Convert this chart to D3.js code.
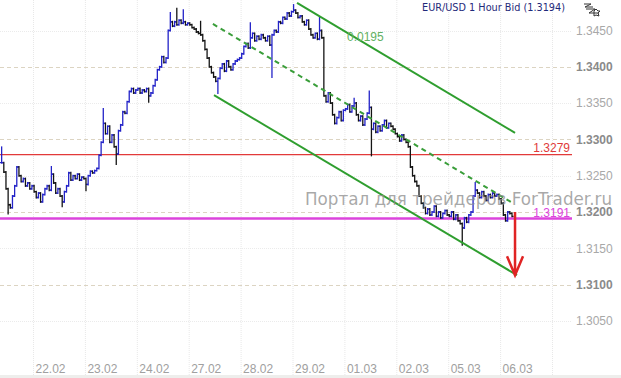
<!DOCTYPE html>
<html>
<head>
<meta charset="utf-8">
<script src="https://cdn.jsdelivr.net/npm/d3@7"></script>
<style>
  html, body { margin: 0; padding: 0; background: #fff; }
  svg { display: block; font-family: "Liberation Sans", Arial, sans-serif; }
</style>
</head>
<body>
<div id="chart"></div>
<script>
// hourly closes, one array per trading day
const c2102 = [1.3268, 1.3255, 1.3232, 1.3210, 1.3206, 1.3222, 1.3236, 1.3262, 1.3250, 1.3242, 1.3246, 1.3236, 1.3240, 1.3232, 1.3236];
const c2202 = [1.3228, 1.3220, 1.3226, 1.3214, 1.3224, 1.3232, 1.3236, 1.3230, 1.3252, 1.3240, 1.3226, 1.3232, 1.3222, 1.3214, 1.3228, 1.3236, 1.3254, 1.3244, 1.3250, 1.3246, 1.3252, 1.3244, 1.3248, 1.3246];
const c2302 = [1.3238, 1.3250, 1.3256, 1.3254, 1.3257, 1.3260, 1.3278, 1.3296, 1.3322, 1.3308, 1.3318, 1.3296, 1.3306, 1.3290, 1.3280, 1.3312, 1.3320, 1.3338, 1.3336, 1.3352, 1.3366, 1.3370, 1.3364, 1.3368];
const c2402 = [1.3370, 1.3364, 1.3368, 1.3366, 1.3370, 1.3360, 1.3364, 1.3374, 1.3382, 1.3396, 1.3400, 1.3414, 1.3406, 1.3412, 1.3450, 1.3462, 1.3456, 1.3462, 1.3458, 1.3464, 1.3460, 1.3462, 1.3458, 1.3460];
const c2702 = [1.3458, 1.3454, 1.3452, 1.3448, 1.3446, 1.3444, 1.3436, 1.3424, 1.3412, 1.3400, 1.3392, 1.3386, 1.3380, 1.3384, 1.3398, 1.3404, 1.3394, 1.3408, 1.3400, 1.3396, 1.3404, 1.3408, 1.3410, 1.3412];
const c2802 = [1.3418, 1.3428, 1.3432, 1.3426, 1.3440, 1.3446, 1.3436, 1.3442, 1.3438, 1.3444, 1.3440, 1.3436, 1.3442, 1.3430, 1.3444, 1.3450, 1.3448, 1.3462, 1.3460, 1.3468, 1.3466, 1.3474, 1.3470, 1.3476];
const c2902 = [1.3478, 1.3474, 1.3468, 1.3470, 1.3462, 1.3458, 1.3464, 1.3452, 1.3444, 1.3440, 1.3446, 1.3438, 1.3450, 1.3440, 1.3360, 1.3352, 1.3364, 1.3350, 1.3334, 1.3322, 1.3330, 1.3338, 1.3326, 1.3340];
const c0103 = [1.3342, 1.3348, 1.3338, 1.3346, 1.3350, 1.3334, 1.3326, 1.3332, 1.3320, 1.3328, 1.3336, 1.3344, 1.3314, 1.3322, 1.3310, 1.3318, 1.3312, 1.3320, 1.3326, 1.3316, 1.3322, 1.3318, 1.3314, 1.3308];
const c0203 = [1.3304, 1.3298, 1.3306, 1.3300, 1.3296, 1.3290, 1.3262, 1.3250, 1.3242, 1.3236, 1.3222, 1.3212, 1.3206, 1.3198, 1.3204, 1.3196, 1.3200, 1.3208, 1.3194, 1.3200, 1.3192, 1.3198, 1.3202, 1.3196];
const c0503 = [1.3194, 1.3200, 1.3190, 1.3196, 1.3188, 1.3184, 1.3178, 1.3192, 1.3186, 1.3196, 1.3200, 1.3222, 1.3230, 1.3226, 1.3220, 1.3228, 1.3222, 1.3216, 1.3224, 1.3220, 1.3226, 1.3222, 1.3224, 1.3218];
const c0603 = [1.3212, 1.3196, 1.3188, 1.3200, 1.3198, 1.3194];

const dayLabels = ["22.02", "23.02", "24.02", "27.02", "28.02", "29.02", "01.03", "02.03", "05.03", "06.03"];
const yTicks = [1.3050, 1.3100, 1.3150, 1.3200, 1.3250, 1.3300, 1.3350, 1.3400, 1.3450];

// wicks beyond open/close: [bar index, price]
const spikeHighs = [[-15, 1.3289], [8, 1.3262], [32, 1.3342], [63, 1.3474], [66, 1.3480], [69, 1.3478], [77, 1.3462], [100, 1.3460], [120, 1.3485], [132, 1.3468], [148, 1.3356], [155, 1.3366], [204, 1.3240]];
const spikeLows = [[-12, 1.3198], [13, 1.3208], [24, 1.3230], [38, 1.3266], [53, 1.3352], [85, 1.3364], [110, 1.3386], [156, 1.3278], [198, 1.3155]];

// levels and channel ([bar index, price])
const resistance = 1.3279;
const support = 1.3191;
const channelUpper = [[122.1, 1.3488], [222.9, 1.3309]];
const channelMid = [[83.2, 1.3459], [222.0, 1.3212]];
const channelLower = [[83.7, 1.3361], [223.8, 1.3113]];
const channelWidth = "0.0195";
const arrowTarget = [[222.9, 1.3200], [222.9, 1.3113]];
const lastPrice = "1.3194";

const width = 621, height = 378, plotRight = 572, plotBottom = 375;

const x = d3.scaleLinear().domain([0, 240]).range([33, 552]);
const y = d3.scaleLinear().domain([1.3200, 1.3450]).range([212, 30.5]);

const days = [c2102, c2202, c2302, c2402, c2702, c2802, c2902, c0103, c0203, c0503, c0603];
const bars = [];
days.forEach((arr, k) => {
  const start = k === 0 ? -arr.length : 24 * (k - 1);
  arr.forEach((c, j) => bars.push({ i: start + j, close: c }));
});
bars.forEach((b, n) => {
  b.open = n === 0 ? b.close : bars[n - 1].close;
  b.high = Math.max(b.open, b.close);
  b.low = Math.min(b.open, b.close);
  b.up = b.close >= b.open;
});
const byIndex = new Map(bars.map(b => [b.i, b]));
spikeHighs.forEach(([i, p]) => { const b = byIndex.get(i); if (b) b.high = Math.max(b.high, p); });
spikeLows.forEach(([i, p]) => { const b = byIndex.get(i); if (b) b.low = Math.min(b.low, p); });

const svg = d3.select("#chart").append("svg")
  .attr("width", width)
  .attr("height", height);

svg.append("rect").attr("width", width).attr("height", height).attr("fill", "#fff");
svg.append("rect").attr("y", plotBottom).attr("width", width).attr("height", height - plotBottom).attr("fill", "#eeeeec");

// vertical day grid
const dayStarts = d3.range(0, 241, 24);
svg.append("g")
  .selectAll()
  .data(dayStarts)
  .join("line")
    .attr("x1", d => x(d) + 0.5).attr("x2", d => x(d) + 0.5)
    .attr("y1", 0).attr("y2", plotBottom)
    .attr("stroke", "#e8e8e8")
    .attr("stroke-dasharray", "1,1");

// horizontal price grid
const major = d => Math.round(d * 10000) % 100 === 0;
svg.append("g")
  .selectAll()
  .data(yTicks)
  .join("line")
    .attr("x1", 0).attr("x2", plotRight)
    .attr("y1", d => Math.round(y(d)) + 0.5).attr("y2", d => Math.round(y(d)) + 0.5)
    .attr("stroke", d => major(d) ? "#dcd4c2" : "#ebebeb")
    .attr("stroke-dasharray", d => major(d) ? "4,3" : "1,1");

// y axis labels
const yAxis = svg.append("g")
  .attr("transform", `translate(${plotRight}, 0)`)
  .call(d3.axisRight(y).tickValues(yTicks).tickSize(0).tickPadding(4).tickFormat(d3.format(".4f")));
yAxis.select(".domain").remove();
yAxis.selectAll("text")
  .attr("font-size", 12)
  .attr("font-family", "Liberation Sans, Arial, sans-serif")
  .attr("fill", d => major(d) ? "#8a8a8a" : "#a8a8a8")
  .attr("font-weight", d => major(d) ? "bold" : "normal");

// x axis labels
const xAxis = svg.append("g")
  .attr("transform", `translate(0, 364)`)
  .call(d3.axisBottom(x).tickValues(dayStarts.slice(0, dayLabels.length)).tickSize(0).tickPadding(0)
    .tickFormat((d, i) => dayLabels[i]));
xAxis.select(".domain").remove();
xAxis.selectAll("text")
  .attr("text-anchor", "start")
  .attr("dx", 2)
  .attr("font-size", 12)
  .attr("font-family", "Liberation Sans, Arial, sans-serif")
  .attr("fill", "#a0a0a0");

// support / resistance
svg.append("line")
  .attr("x1", 0).attr("x2", plotRight)
  .attr("y1", y(resistance)).attr("y2", y(resistance))
  .attr("stroke", "#e23a3a").attr("stroke-width", 1.2);
svg.append("line")
  .attr("x1", 0).attr("x2", plotRight)
  .attr("y1", y(support)).attr("y2", y(support))
  .attr("stroke", "#dc44dc").attr("stroke-width", 2.5);

// price bars, down bars first so blue ones sit on top
const barG = svg.append("g").attr("stroke-width", 1.3);
const barSel = barG.selectAll("g")
  .data(bars.filter(b => !b.up).concat(bars.filter(b => b.up)))
  .join("g")
    .attr("stroke", d => d.up ? "#2323c8" : "#141414");
barSel.append("line")
  .attr("x1", d => x(d.i + 0.5)).attr("x2", d => x(d.i + 0.5))
  .attr("y1", d => y(d.high) - 1).attr("y2", d => y(d.low) + 1);
barSel.append("line")
  .attr("x1", d => x(d.i + 0.5) - 1.6).attr("x2", d => x(d.i + 0.5))
  .attr("y1", d => y(d.open)).attr("y2", d => y(d.open));
barSel.append("line")
  .attr("x1", d => x(d.i + 0.5)).attr("x2", d => x(d.i + 0.5) + 1.6)
  .attr("y1", d => y(d.close)).attr("y2", d => y(d.close));

// channel
const seg = pts => d3.line().x(p => x(p[0])).y(p => y(p[1]))(pts);
svg.append("path").attr("d", seg(channelUpper)).attr("stroke", "#2f9e2f").attr("stroke-width", 2).attr("fill", "none");
svg.append("path").attr("d", seg(channelLower)).attr("stroke", "#2f9e2f").attr("stroke-width", 2).attr("fill", "none");
svg.append("path").attr("d", seg(channelMid)).attr("stroke", "#3a9e3a").attr("stroke-width", 2)
  .attr("stroke-dasharray", "5,4").attr("fill", "none");

svg.append("text")
  .attr("x", x(145.2)).attr("y", y(1.3436))
  .attr("font-size", 12)
  .attr("fill", "#62b062")
  .text(channelWidth);

// level labels
svg.append("text")
  .attr("x", plotRight - 2).attr("y", y(resistance) - 3)
  .attr("text-anchor", "end").attr("font-size", 12).attr("fill", "#e03a3a")
  .text(resistance.toFixed(4));
svg.append("text")
  .attr("x", plotRight - 2).attr("y", y(support) - 2)
  .attr("text-anchor", "end").attr("font-size", 12).attr("fill", "#dc44dc")
  .text(support.toFixed(4));

// watermark
svg.append("text")
  .attr("x", 305).attr("y", 205)
  .attr("font-size", 17)
  .attr("font-family", "DejaVu Sans, sans-serif")
  .attr("fill", "#8c8c8c")
  .attr("fill-opacity", 0.75)
  .attr("textLength", 307)
  .attr("lengthAdjust", "spacingAndGlyphs")
  .text("Портал для трейдеров ForTrader.ru");

// forecast arrow
const ax = x(arrowTarget[1][0]), ay = y(arrowTarget[1][1]);
svg.append("path")
  .attr("d", seg(arrowTarget) + `M${ax - 8},${ay - 19}L${ax},${ay}L${ax + 8},${ay - 19}`)
  .attr("stroke", "#e02424").attr("stroke-width", 2.5).attr("fill", "none");

// title
svg.append("text")
  .attr("x", 565).attr("y", 11)
  .attr("text-anchor", "end")
  .attr("font-size", 10)
  .attr("font-family", "DejaVu Sans, sans-serif")
  .attr("fill", "#1f2a7a")
  .attr("textLength", 143)
  .attr("lengthAdjust", "spacingAndGlyphs")
  .text(`EUR/USD 1 Hour Bid (${lastPrice})`);

// little zoom icon
svg.append("path")
  .attr("d", "M584,4h7l-6,3h8M586,9h9l-6,4h10M594,11l2,-2l2,2l2,0l-2,2l1,3l-3,-1l-2,1z")
  .attr("stroke", "#333").attr("stroke-width", 1).attr("fill", "none");
</script>
</body>
</html>
